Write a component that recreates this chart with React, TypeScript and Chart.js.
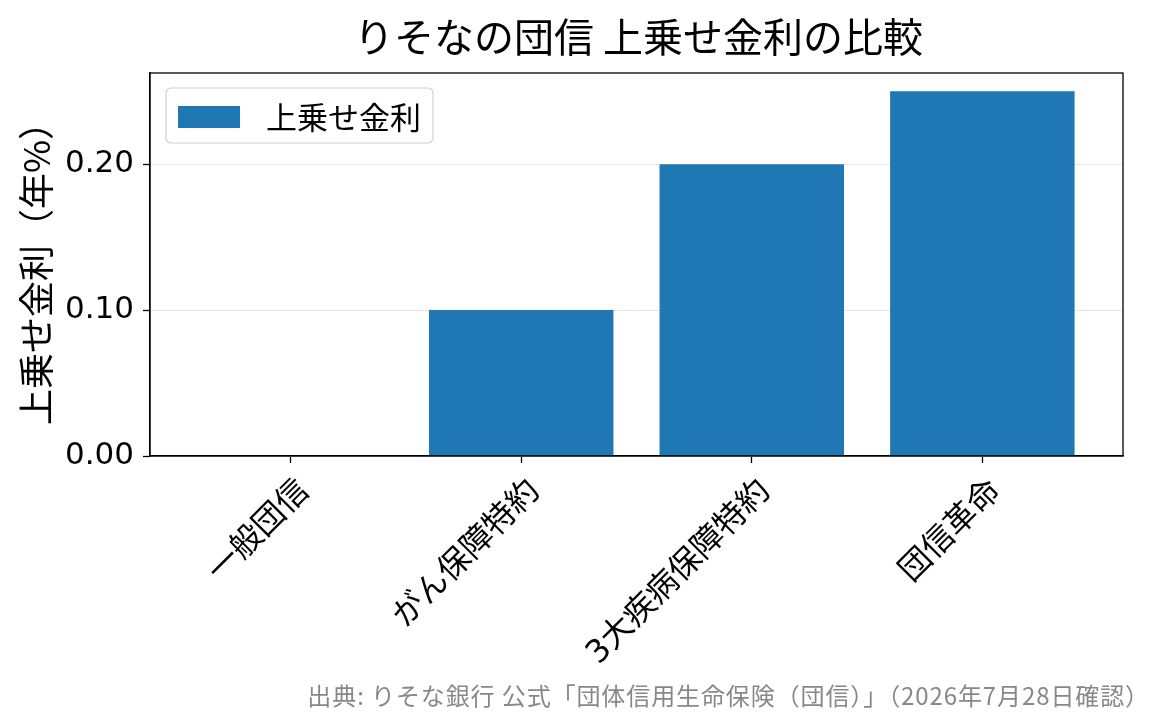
import React, { useRef, useEffect } from "react";
import { Chart, registerables } from "chart.js";

Chart.register(...registerables);

const categories = ["一般団信", "がん保障特約", "3大疾病保障特約", "団信革命"];
const spreadValues = [0.0, 0.1, 0.2, 0.25];
const yTicks = [0.0, 0.1, 0.2];

const seriesLabel = "上乗せ金利";
const titleText = "りそなの団信 上乗せ金利の比較";
const yTitle = "上乗せ金利（年%）";
const sourceText = "出典: りそな銀行 公式「団体信用生命保険（団信）」（2026年7月28日確認）";

const FONT = '"Noto Sans CJK JP", "Noto Sans", sans-serif';
const NUM_FONT = '"DejaVu Sans", "Noto Sans CJK JP", sans-serif';
const BLUE = "#1f77b4";

// title, frame, inline legend and source note
const decorations = {
  id: "decorations",
  afterDraw(chart: Chart) {
    const { ctx, chartArea } = chart;
    const { left, right, top, bottom } = chartArea;
    ctx.save();

    // frame round the plot
    ctx.strokeStyle = "#000";
    ctx.lineWidth = 1.3;
    ctx.strokeRect(left, top, right - left, bottom - top);

    // title
    ctx.fillStyle = "#000";
    ctx.font = `40px ${FONT}`;
    ctx.textAlign = "center";
    ctx.textBaseline = "middle";
    ctx.fillText(titleText, (left + right) / 2 + 2, 37);

    // legend
    const lx = left + 16;
    const ly = top + 15;
    const lw = 267;
    const lh = 55;
    ctx.beginPath();
    ctx.roundRect(lx, ly, lw, lh, 5);
    ctx.fillStyle = "rgba(255,255,255,0.8)";
    ctx.fill();
    ctx.strokeStyle = "#d0d0d0";
    ctx.lineWidth = 1.2;
    ctx.stroke();
    const ds = chart.data.datasets[0];
    ctx.fillStyle = ds.backgroundColor as string;
    ctx.fillRect(lx + 12, ly + 18, 62, 22);
    ctx.fillStyle = "#000";
    ctx.font = `31px ${FONT}`;
    ctx.textAlign = "left";
    ctx.fillText(ds.label as string, lx + 100, ly + 29);

    // source
    ctx.fillStyle = "#888";
    ctx.font = `24px ${FONT}`;
    ctx.textAlign = "right";
    (ctx as any).letterSpacing = "0.9px";
    ctx.fillText(sourceText, 1150, 696);
    ctx.restore();
  },
};

const App = () => {
  const canvasRef = useRef<HTMLCanvasElement>(null);
  const chartRef = useRef<Chart | null>(null);

  useEffect(() => {
    document.body.style.margin = "0";
    const canvas = canvasRef.current;
    if (!canvas) return;
    if (chartRef.current) chartRef.current.destroy();

    chartRef.current = new Chart(canvas, {
      type: "bar",
      data: {
        datasets: [
          {
            label: seriesLabel,
            data: spreadValues.map((v, i) => ({ x: i, y: v })),
            backgroundColor: BLUE,
            borderWidth: 0,
            barPercentage: 0.8,
            categoryPercentage: 1.0,
          },
        ],
      },
      options: {
        responsive: true,
        maintainAspectRatio: false,
        animation: false,
        layout: { padding: { top: 73, right: 42, left: 0, bottom: 0 } },
        plugins: {
          legend: { display: false },
          title: { display: false },
          tooltip: { enabled: false },
        },
        scales: {
          x: {
            type: "linear",
            offset: false,
            min: -0.61,
            max: 3.61,
            afterBuildTicks: (scale: any) => {
              scale.ticks = categories.map((_, i) => ({ value: i }));
            },
            afterFit: (scale: any) => {
              scale.height = 269;
            },
            ticks: {
              autoSkip: false,
              minRotation: 45,
              maxRotation: 45,
              padding: 10,
              labelOffset: 14,
              color: "#000",
              font: { family: NUM_FONT, size: 32 },
              callback: (v: any) => categories[v as number] ?? "",
            },
            grid: {
              offset: false,
              drawOnChartArea: false,
              drawTicks: true,
              tickLength: 7,
              tickColor: "#000",
              tickWidth: 1.3,
            },
            border: { display: true, color: "#000", width: 1.3 },
          },
          y: {
            min: 0,
            max: 0.2625,
            afterBuildTicks: (scale: any) => {
              scale.ticks = yTicks.map((v) => ({ value: v }));
            },
            afterFit: (scale: any) => {
              scale.width = 150;
            },
            ticks: {
              padding: 9,
              color: "#000",
              font: { family: NUM_FONT, size: 31 },
              callback: (v: any) => Number(v).toFixed(2),
            },
            grid: {
              color: "#e6e6e6",
              lineWidth: 1,
              tickLength: 7,
              tickColor: "#000",
              tickWidth: 1.3,
            },
            border: { display: true, color: "#000", width: 1.3 },
            title: {
              display: true,
              text: yTitle,
              color: "#000",
              font: { family: FONT, size: 36 },
              padding: { top: 15, bottom: 0 },
            },
          },
        },
      },
      plugins: [decorations],
    });

    return () => {
      chartRef.current?.destroy();
      chartRef.current = null;
    };
  }, []);

  return (
    <div style={{ position: "relative", width: 1165, height: 725, background: "#fff" }}>
      <canvas ref={canvasRef} />
    </div>
  );
};

export default App;
